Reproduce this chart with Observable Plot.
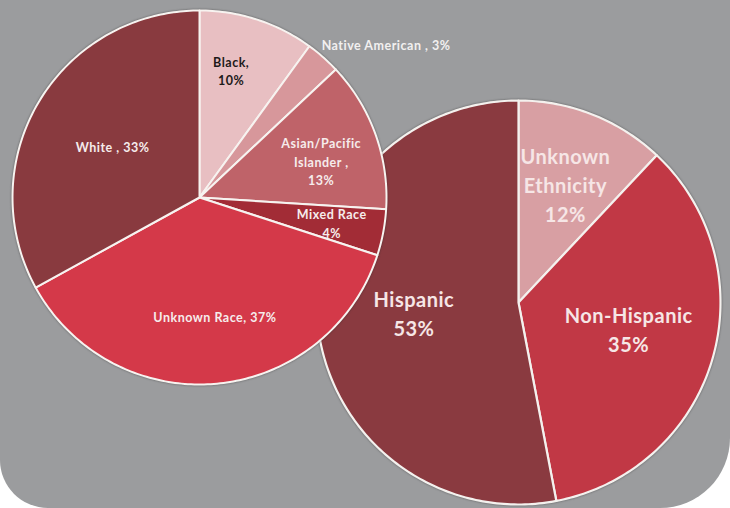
<!DOCTYPE html>
<html>
<head>
<meta charset="utf-8">
<script src="https://cdn.jsdelivr.net/npm/d3@7"></script>
<script src="https://cdn.jsdelivr.net/npm/@observablehq/plot@0.6"></script>
<style>
  html, body { margin: 0; padding: 0; background: #ffffff; }
  #frame {
    width: 730px; height: 508px; overflow: hidden;
    background: #9b9c9e;
    border-radius: 0 0 70px 48px;
  }
  #frame svg { display: block; background: transparent; }
  #frame svg g[aria-label="line"] { filter: drop-shadow(0 0 1px rgba(40,40,40,0.55)); }
</style>
</head>
<body>
<div id="frame"></div>
<script>
// ---- data ----
const raceCategories = ["Black", "Native American", "Asian/Pacific Islander", "Mixed Race", "Unknown Race", "White"];
const raceValues = [10, 3, 13, 4, 37, 33];
const raceLabels = ["Black,\n10%", "Native American , 3%", "Asian/Pacific\nIslander ,\n13%", "Mixed Race\n4%", "Unknown Race, 37%", "White , 33%"];

const ethnicityCategories = ["Unknown Ethnicity", "Non-Hispanic", "Hispanic"];
const ethnicityValues = [12, 35, 53];
const ethnicityLabels = ["Unknown\nEthnicity\n12%", "Non-Hispanic\n35%", "Hispanic\n53%"];

// ---- styles / layout ----
const raceColors = ["#e8bfc2", "#d7979b", "#bf6369", "#a22c36", "#d43949", "#893a3f"];
const ethnicityColors = ["#d89fa3", "#c13845", "#8a3a40"];
const raceLabelRadius = [0.70, 1.04, 0.68, 0.72, 0.64, 0.54];
const raceLabelTurn = [-4, -2.5, 3, 0, -2, 0];      // degrees
const ethnicityLabelRadius = [0.63, 0.56, 0.52];
const ethnicityLabelTurn = [0, -3, 0];
const racePie = {cx: 199, cy: 197, r: 187};
const ethPie = {cx: 518, cy: 302, r: 202};

function slices(cats, vals, colors, geo, pieName) {
  const arcs = d3.pie().sort(null).value(d => d)(vals);
  const pts = [];
  arcs.forEach((a, i) => {
    const name = pieName + ":" + cats[i];
    pts.push({name, color: colors[i], x: geo.cx, y: geo.cy});
    const n = Math.max(4, Math.ceil((a.endAngle - a.startAngle) / (Math.PI / 180)));
    for (let k = 0; k <= n; k++) {
      const t = a.startAngle + (a.endAngle - a.startAngle) * k / n;
      pts.push({name, color: colors[i], x: geo.cx + geo.r * Math.sin(t), y: geo.cy - geo.r * Math.cos(t)});
    }
  });
  return pts;
}
function labels(cats, vals, texts, radii, turns, geo) {
  const arcs = d3.pie().sort(null).value(d => d)(vals);
  return arcs.map((a, i) => {
    const m = (a.startAngle + a.endAngle) / 2 + turns[i] * Math.PI / 180;
    return {cat: cats[i], text: texts[i], x: geo.cx + radii[i] * geo.r * Math.sin(m), y: geo.cy - radii[i] * geo.r * Math.cos(m)};
  });
}

const raceSlices = slices(raceCategories, raceValues, raceColors, racePie, "race");
const ethSlices = slices(ethnicityCategories, ethnicityValues, ethnicityColors, ethPie, "eth");
const raceText = labels(raceCategories, raceValues, raceLabels, raceLabelRadius, raceLabelTurn, racePie);
const ethText = labels(ethnicityCategories, ethnicityValues, ethnicityLabels, ethnicityLabelRadius, ethnicityLabelTurn, ethPie);

const font = "Lato, 'Open Sans', sans-serif";

const chart = Plot.plot({
  width: 730,
  height: 508,
  margin: 0,
  style: {background: "transparent", fontFamily: font},
  x: {domain: [0, 730], range: [0, 730], axis: null},
  y: {domain: [0, 508], range: [0, 508], axis: null},
  color: {type: "identity"},
  marks: [
    // right pie (drawn first, underneath)
    Plot.line(ethSlices, {x: "x", y: "y", z: "name", fill: "color", stroke: "#f4f1ee", strokeWidth: 2.2, curve: "linear-closed", strokeLinejoin: "round"}),
    Plot.text(ethText, {x: "x", y: "y", text: "text", fill: "#f6e6e6", fontSize: 20, fontWeight: "bold", lineHeight: 1.45, lineAnchor: "middle", style: {letterSpacing: "0.3px"}}),
    // left pie (on top)
    Plot.line(raceSlices, {x: "x", y: "y", z: "name", fill: "color", stroke: "#f7f3f0", strokeWidth: 2, curve: "linear-closed", strokeLinejoin: "round"}),
    Plot.text(raceText, {
      filter: d => d.cat !== "Native American",
      x: "x", y: "y", text: "text",
      fill: d => d.cat === "Black" ? "#1e1a1a" : "#f6ecec",
      textAnchor: "middle",
      fontSize: 12.5, fontWeight: "bold", lineHeight: 1.45, lineAnchor: "middle"
    }),
    Plot.text(raceText, {
      filter: d => d.cat === "Native American",
      x: "x", y: "y", text: "text",
      fill: "#f2f0f0",
      textAnchor: "start",
      fontSize: 12.5, fontWeight: "bold", lineAnchor: "middle"
    })
  ]
});
chart.querySelectorAll('g[aria-label="text"]').forEach(g => g.style.letterSpacing = "0.5px");
document.getElementById("frame").appendChild(chart);
</script>
</body>
</html>
